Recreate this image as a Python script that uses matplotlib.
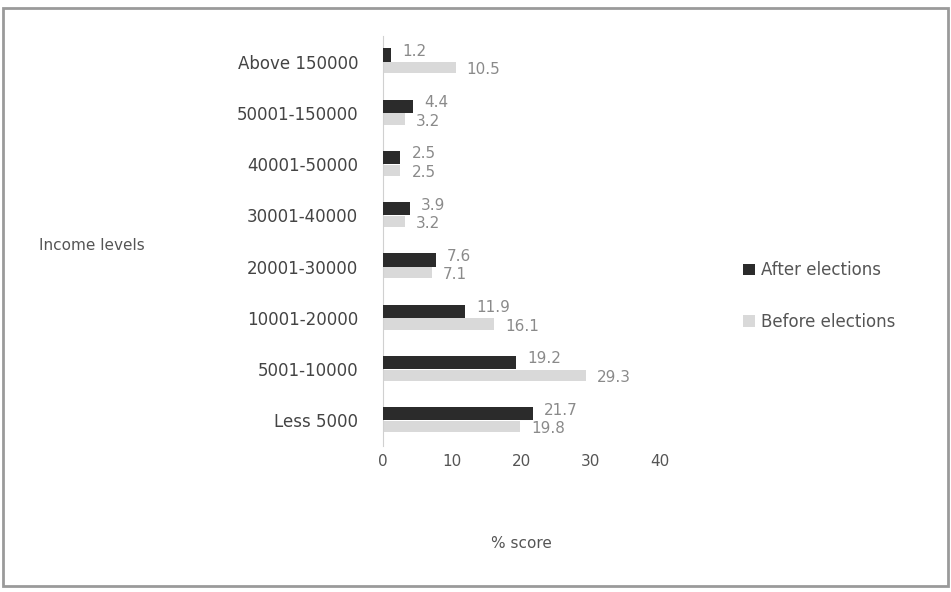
import matplotlib
matplotlib.use("Agg")
import matplotlib.pyplot as plt
from matplotlib.patches import Rectangle
import numpy as np

categories = ["Above 150000", "50001-150000", "40001-50000", "30001-40000",
              "20001-30000", "10001-20000", "5001-10000", "Less 5000"]
after_elections = [1.2, 4.4, 2.5, 3.9, 7.6, 11.9, 19.2, 21.7]
before_elections = [10.5, 3.2, 2.5, 3.2, 7.1, 16.1, 29.3, 19.8]
x_ticks = [0, 10, 20, 30, 40]

W, H = 951, 592
fig = plt.figure(figsize=(W / 100, H / 100), dpi=100)
fig.patch.set_facecolor("white")

ax = fig.add_axes([383 / W, 1 - 446 / H, (660 - 383) / W, (446 - 36) / H])
ax.set_facecolor("white")

y = np.arange(len(categories))
h_after = 0.26
h_before = 0.22
ax.barh(y - 0.13, after_elections, height=h_after, color="#2b2b2b",
        label="After elections", zorder=3)
ax.barh(y + 0.12, before_elections, height=h_before, color="#d9d9d9",
        label="Before elections", zorder=2)

for yi, v in zip(y, after_elections):
    ax.text(v + 1.6, yi - 0.2, f"{v:.1f}", va="center", ha="left",
            fontsize=11, color="#8a8a8a")
for yi, v in zip(y, before_elections):
    ax.text(v + 1.6, yi + 0.16, f"{v:.1f}", va="center", ha="left",
            fontsize=11, color="#8a8a8a")

ax.set_xlim(0, 40)
ax.set_ylim(len(categories) - 0.5, -0.5)
ax.set_yticks(y)
ax.set_yticklabels(categories, fontsize=12, color="#444444")
ax.set_xticks(x_ticks)
ax.set_xticklabels([str(t) for t in x_ticks], fontsize=11, color="#555555")
for s in ["top", "right", "bottom"]:
    ax.spines[s].set_visible(False)
ax.spines["left"].set_color("#d0d0d0")
ax.tick_params(axis="y", length=0, pad=18)
ax.tick_params(axis="x", length=0, pad=6)

ax.set_xlabel("% score", fontsize=11, color="#555555", labelpad=48)
fig.text(92 / W, 1 - 245 / H, "Income levels", fontsize=11, color="#555555",
         ha="center", va="center")

leg = fig.legend(loc="center left", bbox_to_anchor=(728 / W, 1 - 296 / H),
                 frameon=False, fontsize=12, labelcolor="#555555",
                 handlelength=0.7, handleheight=0.7, handletextpad=0.4,
                 labelspacing=2.0)

# outer frame
fig.add_artist(Rectangle((3 / W, 6 / H), (W - 6) / W, (H - 14) / H,
                         transform=fig.transFigure, fill=False,
                         edgecolor="#9a9a9a", linewidth=2))

fig.savefig("out.png", dpi=100, facecolor="white")
